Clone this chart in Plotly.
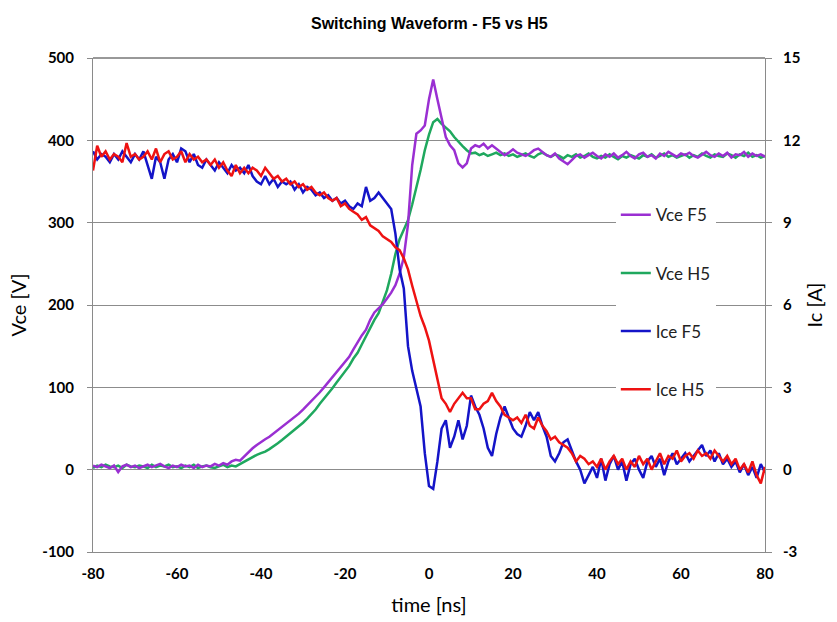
import plotly.graph_objects as go

# time axis, ns (1 ns steps from -80 to 80)
time_ns = list(range(-80, 81))

vce_f5 = [
    5, 3, 6, 4, 2, 5, -3, 4, 6, 3,
    5, 2, 4, 6, 3, 5, 7, 4, 2, 5,
    3, 6, 4, 5, 2, 6, 3, 5, 4, 7,
    5, 8, 6, 10, 12, 11, 16, 22, 26, 30,
    34, 37, 40, 44, 47, 52, 56, 60, 64, 68,
    73, 78, 83, 88, 94, 100, 106, 112, 118, 124,
    131, 137, 146, 155, 163, 170, 182, 191, 196, 201,
    208, 215, 224, 238, 258, 298, 370, 408, 412, 418,
    450, 474, 450, 425, 404, 394, 388, 372, 367, 372,
    390, 394, 392, 396, 390, 394, 390, 386, 382, 385,
    389, 385, 383, 381, 384, 388, 390, 386, 382, 380,
    384, 378, 374, 371, 376, 381, 383, 379, 382, 385,
    381, 378, 383, 380, 384, 379, 382, 386, 381, 378,
    383, 385, 380, 382, 378, 384, 381, 386, 383, 380,
    384, 382, 385, 381, 379, 383, 386, 382, 380, 384,
    381, 385, 379, 383, 382, 386, 380, 384, 381, 383,
    380,
]

vce_h5 = [
    2, 5, 3, 6, 4, 3, 5, 2, 6, 4,
    3, 5, 4, 2, 6, 3, 5, 4, 6, 3,
    4, 2, 5, 3, 6, 2, 4, 5, 3, 2,
    4, 6, 3, 5, 4, 7, 9, 12, 15, 18,
    20, 22, 25, 28, 32, 36, 40, 44, 48, 52,
    57, 62, 67, 73, 80, 86, 93, 99, 106, 113,
    120, 126, 135, 142, 152, 162, 173, 182, 190, 203,
    218, 238, 262, 280, 292, 303, 322, 342, 364, 388,
    407, 422, 426, 420, 415, 411, 404, 398, 393, 388,
    384, 385, 382, 384, 381, 383, 385, 382, 384, 381,
    383, 380, 382, 384, 381, 379, 383, 385, 382, 380,
    383, 381, 378, 382, 380, 383, 379, 381, 384, 380,
    378, 381, 379, 383, 380, 377, 381, 379, 382, 380,
    378, 382, 380, 383, 379, 381, 384, 380, 382, 379,
    381, 383, 379, 382, 380, 384, 381, 379, 383, 381,
    380, 384, 382, 379, 383, 381, 385, 380, 382, 379,
    381,
]

ice_f5 = [
    11.6, 11.3, 11.5, 11.4, 11.2, 11.5, 11.3, 11.6, 11.4, 11.2,
    11.5, 11.3, 11.6, 11.1, 10.6, 11.4, 11.2, 10.6, 11.3, 11.5,
    11.2, 11.7, 11.6, 11.2, 11.5, 11.1, 11.0, 11.3, 11.1, 10.9,
    11.2, 11.0, 10.8, 11.1, 10.9, 11.0, 10.8, 11.1, 10.7, 10.5,
    10.4, 10.7, 10.4, 10.6, 10.3, 10.5, 10.4, 10.5, 10.2, 10.4,
    10.1, 10.3, 10.2, 10.0, 10.1, 9.9, 10.0, 9.8, 9.9, 9.7,
    9.8, 9.6, 9.5, 9.7, 9.6, 10.3, 9.8, 9.9, 10.1, 9.9,
    9.7, 9.5, 8.6, 7.3, 6.6, 4.5, 3.6, 2.9, 2.3, 0.6,
    -0.6, -0.7, 0.3, 1.5, 1.8, 0.8, 1.2, 1.8, 1.1, 1.6,
    2.7, 2.3, 2.0, 1.5, 0.8, 0.5, 1.3, 1.9, 2.3, 1.9,
    1.5, 1.3, 1.2, 1.6, 2.1, 1.8, 2.1, 1.6, 1.2, 0.5,
    0.3, 0.6, 1.0, 1.1, 0.7, 0.3, 0.0, -0.5, -0.2, 0.1,
    -0.3, 0.4, -0.4, 0.2, 0.5, 0.0, 0.3, -0.4, 0.2, 0.4,
    0.0, -0.3, 0.3, 0.5, 0.1, 0.4, -0.2, 0.3, 0.6, 0.2,
    0.4, 0.6, 0.3, 0.5, 0.7, 0.9, 0.5, 0.7, 0.3, 0.6,
    0.2, 0.4, 0.1, 0.3, -0.1, 0.2, -0.2, 0.1, -0.3, 0.2,
    -0.1,
]

ice_h5 = [
    10.9, 11.8, 11.4, 11.6, 11.3, 11.5, 11.4, 11.2, 11.9, 11.4,
    11.5, 11.3, 11.4, 11.6, 11.3, 11.7, 11.2, 11.5, 11.6, 11.3,
    11.4, 11.6, 11.2, 11.5, 11.3, 11.4, 11.2, 11.3, 11.1, 11.3,
    11.0, 11.2, 10.9, 10.7, 11.1, 10.8, 11.0, 10.8, 11.0, 10.9,
    10.7, 11.0, 10.8, 10.6, 10.7, 10.5, 10.6, 10.4, 10.5, 10.3,
    10.4, 10.2, 10.3, 10.1, 10.0, 10.1, 9.9, 9.8, 9.9, 9.6,
    9.7, 9.5, 9.4, 9.3, 9.1, 9.2, 8.9, 8.8, 8.7, 8.5,
    8.4, 8.3, 8.1, 8.0, 7.7, 7.3, 6.7, 6.1, 5.6, 5.2,
    4.7, 4.0, 3.3, 2.6, 2.4, 2.1, 2.4, 2.6, 2.8, 2.6,
    2.6, 2.2, 2.2, 2.4, 2.5, 2.8, 2.5, 2.3, 2.0, 1.9,
    1.8, 1.9, 1.7, 2.0, 1.6, 1.5, 1.9, 1.6, 1.4, 1.1,
    1.2, 1.0, 0.9, 0.8, 0.6, 0.3, 0.5, 0.4, 0.2, 0.3,
    0.1, 0.4, 0.0, 0.3, 0.5, 0.2, 0.4, 0.0, 0.3, 0.1,
    0.5, 0.2, 0.4, 0.0, 0.3, 0.6, 0.2, 0.5, 0.4, 0.7,
    0.3, 0.5, 0.6, 0.4, 0.7, 0.5, 0.6, 0.4, 0.7, 0.5,
    0.3, 0.5, 0.2, 0.4, 0.0, 0.2, -0.1, 0.3, -0.2, -0.5,
    0.1,
]

x_ticks = [-80, -60, -40, -20, 0, 20, 40, 60, 80]
x_labels = ["-80", "-60", "-40", "-20", "0", "20", "40", "60", "80"]
v_ticks = [-100, 0, 100, 200, 300, 400, 500]
v_labels = ["-100", "0", "100", "200", "300", "400", "500"]
i_ticks = [-3, 0, 3, 6, 9, 12, 15]
i_labels = ["-3", "0", "3", "6", "9", "12", "15"]

series = [
    ("Vce F5", vce_f5, "y", "#9a2fd2"),
    ("Vce H5", vce_h5, "y", "#1fa85e"),
    ("Ice F5", ice_f5, "y2", "#1414c8"),
    ("Ice H5", ice_h5, "y2", "#ee1212"),
]

fig = go.Figure()
order = [1, 0, 2, 3]
for k in order:
    name, vals, ax, col = series[k]
    fig.add_trace(go.Scatter(
        x=time_ns, y=vals, name=name, yaxis=ax, mode="lines",
        line=dict(color=col, width=2.5), legendgroup=name, legendrank=k + 1,
    ))

tickfont = dict(family="Lato, Open Sans, sans-serif", size=15, color="black", weight="bold")
titlefont = dict(family="Lato, Open Sans, sans-serif", size=20, color="black")
axcol = "#8a8a8a"

fig.update_layout(
    width=837, height=622,
    margin=dict(l=93, r=72, t=58, b=70, autoexpand=False),
    paper_bgcolor="white", plot_bgcolor="white",
    title=dict(text="<b>Switching Waveform - F5 vs H5</b>", x=0.513, xanchor="center",
               y=0.963, yanchor="middle",
               font=dict(family="Liberation Sans Narrow, Arial Narrow, Liberation Sans, sans-serif",
                         size=16, color="black")),
    showlegend=True,
    legend=dict(x=0.778, y=0.718, xanchor="left", yanchor="top", bgcolor="white",
                font=dict(family="Lato, Open Sans, sans-serif", size=17, color="#222222"),
                tracegroupgap=33, itemwidth=30, borderwidth=0),
    xaxis=dict(range=[-80, 80], tickvals=x_ticks, ticktext=x_labels, ticks="", showgrid=False,
               zeroline=False, automargin=False,
               showline=True, linecolor=axcol, linewidth=1, tickfont=tickfont,
               ticklabelstandoff=8,
               title=dict(text="time [ns]", font=titlefont, standoff=16)),
    yaxis=dict(range=[-100, 500], tickvals=v_ticks, ticktext=v_labels, ticks="outside", ticklen=5,
               tickcolor=axcol, automargin=False,
               showgrid=True, gridcolor="#8c8c8c", gridwidth=1, zeroline=False,
               showline=True, linecolor=axcol, linewidth=1, tickfont=tickfont,
               ticklabelstandoff=10,
               title=dict(text="Vce [V]", font=titlefont, standoff=10)),
    yaxis2=dict(range=[-3, 15], tickvals=i_ticks, ticktext=i_labels, overlaying="y", side="right",
                ticks="outside", ticklen=6, tickcolor=axcol, showgrid=False, zeroline=False,
                automargin=False,
                showline=True, linecolor=axcol, linewidth=1, tickfont=tickfont,
                ticklabelstandoff=8,
                title=dict(text="Ic [A]", font=titlefont, standoff=8)),
)
fig.add_shape(type="line", xref="paper", yref="paper", x0=0, x1=1, y0=1, y1=1,
              line=dict(color="#333333", width=1))

fig.write_html("out.html")
